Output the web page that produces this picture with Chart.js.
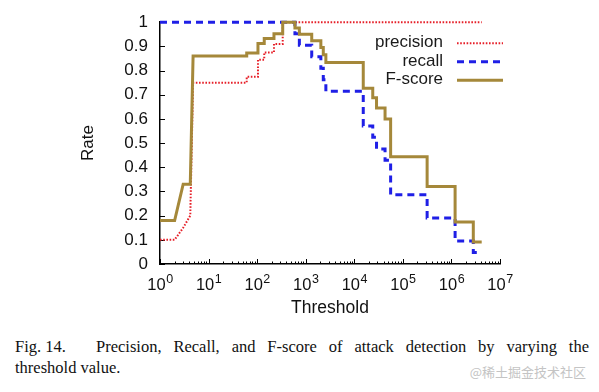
<!DOCTYPE html>
<html>
<head>
<meta charset="utf-8">
<script src="https://cdn.jsdelivr.net/npm/chart.js@4.4.1/dist/chart.umd.min.js"></script>
<style>
  html, body { margin: 0; padding: 0; background: #fff; }
  body { width: 599px; height: 392px; position: relative; overflow: hidden; }
  #c { position: absolute; left: 0; top: 0; }
  .cap { position: absolute; font-family: "Liberation Serif", "Times New Roman", serif; font-size: 16.5px; line-height: 20px; color: #111; white-space: nowrap; }
  #cap1 { left: 15px; top: 337px; width: 575px; }
  #cap1 .fig { display: inline-block; width: 81px; }
  #cap1 .rest { display: inline-block; width: 493px; text-align: justify; text-align-last: justify; white-space: normal; }
  #cap2 { left: 15px; top: 358px; }
  #wm { position: absolute; right: 13px; top: 363px; font-family: "Noto Sans CJK SC", sans-serif; font-size: 13px; line-height: 18px; color: #c4c4c4; }
</style>
</head>
<body>
<canvas id="c" width="599" height="322"></canvas>
<div class="cap" id="cap1"><span class="fig">Fig. 14.</span><span class="rest">Precision, Recall, and F-score of attack detection by varying the</span></div>
<div class="cap" id="cap2">threshold value.</div>
<div id="wm">@稀土掘金技术社区</div>
<script>
// ---- data ----
const thresholds = [1, 2, 3, 4.2, 4.8, 61, 61, 104, 104, 140, 140, 222, 222, 336, 336, 600, 600, 740, 740, 1330, 1330, 2050, 2050, 2300, 2300, 2600, 2600, 15300, 15300, 24000, 24000, 28700, 28700, 43000, 43000, 56000, 56000, 316000, 316000, 1190000, 1190000, 2820000, 2820000, 4200000];
const precision  = [0.1, 0.1, 0.15, 0.2, 0.75, 0.75, 0.774, 0.774, 0.845, 0.845, 0.875, 0.875, 0.91, 0.91, 1, 1, 1, 1, 1, 1, 1, 1, 1, 1, 1, 1, 1, 1, 1, 1, 1, 1, 1, 1, 1, 1, 1, 1, 1, 1, 1, 1, 1, 1];
const recall     = [1, 1, 1, 1, 1, 1, 1, 1, 1, 1, 1, 1, 1, 1, 1, 1, 0.952, 0.952, 0.905, 0.905, 0.857, 0.857, 0.81, 0.81, 0.762, 0.762, 0.714, 0.714, 0.571, 0.571, 0.524, 0.524, 0.476, 0.476, 0.429, 0.429, 0.286, 0.286, 0.19, 0.19, 0.095, 0.095, 0.048, 0.048];
const fscore     = [0.18, 0.18, 0.33, 0.33, 0.86, 0.86, 0.873, 0.873, 0.912, 0.912, 0.933, 0.933, 0.952, 0.952, 1, 1, 0.976, 0.976, 0.95, 0.95, 0.923, 0.923, 0.895, 0.895, 0.865, 0.865, 0.833, 0.833, 0.727, 0.727, 0.688, 0.688, 0.645, 0.645, 0.6, 0.6, 0.444, 0.444, 0.32, 0.32, 0.174, 0.174, 0.091, 0.091];
const seriesNames = ['precision', 'recall', 'F-score'];
const yTicks = [0, 0.1, 0.2, 0.3, 0.4, 0.5, 0.6, 0.7, 0.8, 0.9, 1];
const yTickLabels = ['0', '0.1', '0.2', '0.3', '0.4', '0.5', '0.6', '0.7', '0.8', '0.9', '1'];
const xExponents = [0, 1, 2, 3, 4, 5, 6, 7];

const SANS = '"Liberation Sans", Arial, Helvetica, sans-serif';
const toPts = arr => arr.map((v, i) => ({ x: thresholds[i], y: v }));

const styles = [
  { color: '#e61f28', width: 2, dash: [1.6, 1.6], order: 2 },
  { color: '#1f1fe6', width: 3, dash: [7, 5], order: 1 },
  { color: '#a5883a', width: 3, dash: [], order: 0 }
];
const values = [precision, recall, fscore];

const datasets = values.map((vals, i) => ({
  label: seriesNames[i],
  data: toPts(vals),
  borderColor: styles[i].color,
  backgroundColor: styles[i].color,
  borderWidth: styles[i].width,
  borderDash: styles[i].dash,
  borderCapStyle: 'butt',
  borderJoinStyle: 'miter',
  pointRadius: 0,
  tension: 0,
  fill: false,
  clip: false,
  order: styles[i].order
}));

const axisDecor = {
  id: 'axisDecor',
  beforeDatasetsDraw(chart) {
    const { ctx, chartArea, scales: { x, y } } = chart;
    ctx.save();
    ctx.strokeStyle = '#000';
    ctx.lineWidth = 1;
    yTicks.forEach(v => {
      const py = Math.round(y.getPixelForValue(v)) + 0.5;
      ctx.beginPath(); ctx.moveTo(chartArea.left, py); ctx.lineTo(chartArea.left + 5, py); ctx.stroke();
    });
    xExponents.forEach((e, idx) => {
      const base = Math.pow(10, e);
      const px = Math.round(x.getPixelForValue(base)) + 0.5;
      ctx.beginPath(); ctx.moveTo(px, chartArea.bottom); ctx.lineTo(px, chartArea.bottom - 5); ctx.stroke();
      if (idx < xExponents.length - 1) {
        for (let m = 2; m <= 9; m++) {
          const pm = Math.round(x.getPixelForValue(base * m)) + 0.5;
          ctx.beginPath(); ctx.moveTo(pm, chartArea.bottom); ctx.lineTo(pm, chartArea.bottom - 2.5); ctx.stroke();
        }
      }
    });
    ctx.fillStyle = '#111';
    ctx.textBaseline = 'alphabetic';
    ctx.textAlign = 'left';
    xExponents.forEach(e => {
      const px = x.getPixelForValue(Math.pow(10, e));
      ctx.font = '16.5px ' + SANS;
      const w1 = ctx.measureText('10').width;
      ctx.font = '12.5px ' + SANS;
      const w2 = ctx.measureText(String(e)).width;
      const start = px - (w1 + w2) / 2;
      ctx.font = '16.5px ' + SANS;
      ctx.fillText('10', start, chartArea.bottom + 25.5);
      ctx.font = '12.5px ' + SANS;
      ctx.fillText(String(e), start + w1 + 0.5, chartArea.bottom + 18.5);
    });
    ctx.restore();
  },
  afterDatasetsDraw(chart) {
    const { ctx, chartArea } = chart;
    ctx.save();
    ctx.font = '17px ' + SANS;
    ctx.textAlign = 'right';
    ctx.textBaseline = 'middle';
    chart.data.datasets.forEach((ds, i) => {
      const cy = chartArea.top + 20.5 + i * 18.5;
      ctx.fillStyle = '#1a1a1a';
      ctx.fillText(ds.label, chartArea.right - 57, cy);
      ctx.strokeStyle = ds.borderColor;
      ctx.lineWidth = ds.borderWidth;
      ctx.setLineDash(ds.borderDash);
      ctx.lineCap = 'butt';
      ctx.beginPath();
      ctx.moveTo(chartArea.right - 43, cy + 0.5);
      ctx.lineTo(chartArea.right + 3, cy + 0.5);
      ctx.stroke();
    });
    ctx.restore();
  }
};

new Chart(document.getElementById('c').getContext('2d'), {
  type: 'line',
  data: { datasets },
  options: {
    responsive: false,
    animation: false,
    events: [],
    layout: { padding: { top: 21, right: 99, left: 0, bottom: 0 } },
    plugins: { legend: { display: false }, tooltip: { enabled: false }, title: { display: false } },
    scales: {
      x: {
        type: 'logarithmic',
        position: 'bottom',
        min: 1,
        max: 1e7,
        afterBuildTicks: s => { s.ticks = xExponents.map(e => ({ value: Math.pow(10, e) })); },
        afterFit: s => { s.height = 58; },
        ticks: { display: false },
        grid: { display: false, drawOnChartArea: false, drawTicks: false },
        border: { display: true, color: '#000', width: 1.5 },
        title: { display: true, text: 'Threshold', color: '#111', font: { family: SANS, size: 17.5 }, padding: { top: 0, bottom: 3 } }
      },
      y: {
        type: 'linear',
        position: 'left',
        min: 0,
        max: 1,
        afterBuildTicks: s => { s.ticks = yTicks.map(v => ({ value: v })); },
        afterFit: s => { s.width = 160; },
        ticks: { padding: 12, color: '#111', font: { family: SANS, size: 17 }, callback: (v, i) => yTickLabels[i] },
        grid: { display: true, drawOnChartArea: false, drawTicks: false, color: 'rgba(0,0,0,0)' },
        border: { display: true, color: '#000', width: 1.5 },
        title: { display: true, text: 'Rate', color: '#111', font: { family: SANS, size: 17 }, padding: { top: 78, bottom: 0 } }
      }
    }
  },
  plugins: [axisDecor]
});
</script>
</body>
</html>
